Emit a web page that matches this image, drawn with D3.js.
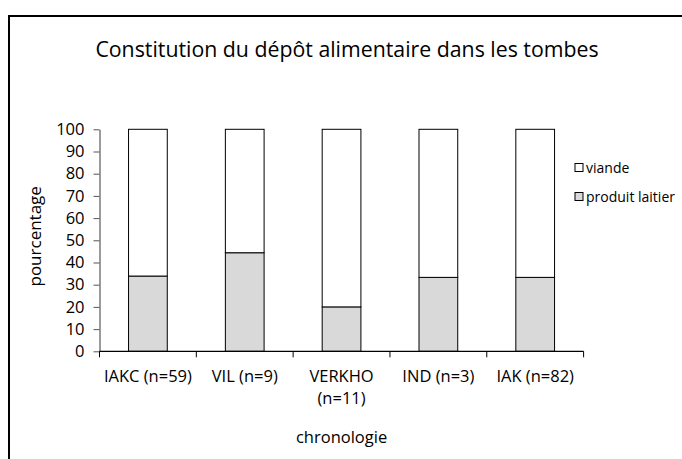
<!DOCTYPE html>
<html>
<head>
<meta charset="utf-8">
<script src="https://cdn.jsdelivr.net/npm/d3@7"></script>
<style>
  html, body { margin: 0; padding: 0; background: #fff; }
  svg text { font-family: "Open Sans", "Noto Sans", sans-serif; fill: #000; }
</style>
</head>
<body>
<svg id="chart" width="682" height="459"></svg>
<script>
// Periods (with number of graves) and share of each food type, in percent
const categories = ["IAKC (n=59)", "VIL (n=9)", "VERKHO (n=11)", "IND (n=3)", "IAK (n=82)"];
const categoryLines = [["IAKC (n=59)"], ["VIL (n=9)"], ["VERKHO", "(n=11)"], ["IND (n=3)"], ["IAK (n=82)"]];
const produitLaitier = [33.9, 44.4, 20, 33.3, 33.3];
const viande = [66.1, 55.6, 80, 66.7, 66.7];
const yTicks = [0, 10, 20, 30, 40, 50, 60, 70, 80, 90, 100];
const seriesNames = ["viande", "produit laitier"];
const seriesColors = ["#ffffff", "#d9d9d9"];

const svg = d3.select("#chart");
const W = 682, H = 459;

svg.append("rect").attr("width", W).attr("height", H).attr("fill", "#fff");

// Outer chart frame (runs off the right and bottom edges)
svg.append("rect")
  .attr("x", 9).attr("y", 16)
  .attr("width", W + 20).attr("height", H + 20)
  .attr("fill", "none").attr("stroke", "#000").attr("stroke-width", 2);

const plot = { left: 99.5, right: 583.6, top: 129.3, bottom: 351.3 };

const x = d3.scaleBand()
  .domain(categories)
  .range([plot.left, plot.right])
  .paddingInner(0.6)
  .paddingOuter(0.3);

const y = d3.scaleLinear().domain([0, 100]).range([plot.bottom, plot.top]);

// Title
svg.append("text")
  .attr("x", 347).attr("y", 57)
  .attr("text-anchor", "middle")
  .attr("font-size", 21.3)
  .text("Constitution du dépôt alimentaire dans les tombes");

// Stacked bars: dairy at the bottom, meat on top
const stackData = categories.map((c, i) => ({ cat: c, "produit laitier": produitLaitier[i], "viande": viande[i] }));
const stack = d3.stack().keys(["produit laitier", "viande"])(stackData);
const colorOf = d3.scaleOrdinal().domain(seriesNames).range(seriesColors);

svg.append("g").selectAll("g")
  .data(stack)
  .join("g")
  .attr("fill", d => colorOf(d.key))
  .selectAll("rect")
  .data(d => d)
  .join("rect")
  .attr("x", d => x(d.data.cat))
  .attr("width", x.bandwidth())
  .attr("y", d => y(d[1]))
  .attr("height", d => y(d[0]) - y(d[1]))
  .attr("stroke", "#000")
  .attr("stroke-width", 1);

// Y axis
const yAxis = svg.append("g")
  .attr("transform", `translate(${plot.left},0)`)
  .call(d3.axisLeft(y).tickValues(yTicks).tickSize(6).tickPadding(9).tickSizeOuter(0));
yAxis.select(".domain").attr("stroke", "#7a7a7a").attr("stroke-width", 1.5);
yAxis.selectAll(".tick line").attr("stroke", "#555");
yAxis.selectAll(".tick text")
  .attr("font-size", 16.5)
  .attr("font-family", "'Open Sans', sans-serif");

// X axis: baseline with ticks between categories
const xg = svg.append("g");
xg.append("line")
  .attr("x1", plot.left).attr("x2", plot.right)
  .attr("y1", plot.bottom).attr("y2", plot.bottom)
  .attr("stroke", "#000").attr("stroke-width", 1.2);
const boundaries = d3.range(categories.length + 1).map(i => plot.left + i * x.step());
xg.selectAll("line.tk")
  .data(boundaries)
  .join("line")
  .attr("class", "tk")
  .attr("x1", d => d).attr("x2", d => d)
  .attr("y1", plot.bottom).attr("y2", plot.bottom + 6)
  .attr("stroke", "#000");

xg.selectAll("text.cat")
  .data(categories)
  .join("text")
  .attr("class", "cat")
  .attr("text-anchor", "middle")
  .attr("font-size", 16.5)
  .attr("x", d => x(d) + x.bandwidth() / 2)
  .attr("y", 382)
  .each(function (d, i) {
    const t = d3.select(this);
    categoryLines[i].forEach((line, j) => {
      t.append("tspan")
        .attr("x", x(d) + x.bandwidth() / 2)
        .attr("dy", j === 0 ? 0 : 22)
        .text(line);
    });
  });

// Axis titles
svg.append("text")
  .attr("x", (plot.left + plot.right) / 2).attr("y", 443)
  .attr("text-anchor", "middle")
  .attr("font-size", 16.5)
  .text("chronologie");

svg.append("text")
  .attr("transform", `translate(41,${(plot.top + plot.bottom) / 2 - 4}) rotate(-90)`)
  .attr("text-anchor", "middle")
  .attr("font-size", 17)
  .text("pourcentage");

// Legend
const legend = svg.append("g");
const legendY = [168, 197];
seriesNames.forEach((name, i) => {
  legend.append("rect")
    .attr("x", 575).attr("y", legendY[i] - 4.5)
    .attr("width", 8).attr("height", 8)
    .attr("fill", seriesColors[i])
    .attr("stroke", "#000").attr("stroke-width", 1);
  legend.append("text")
    .attr("x", 586).attr("y", legendY[i] + 5)
    .attr("font-size", 14)
    .text(name);
});
</script>
</body>
</html>
